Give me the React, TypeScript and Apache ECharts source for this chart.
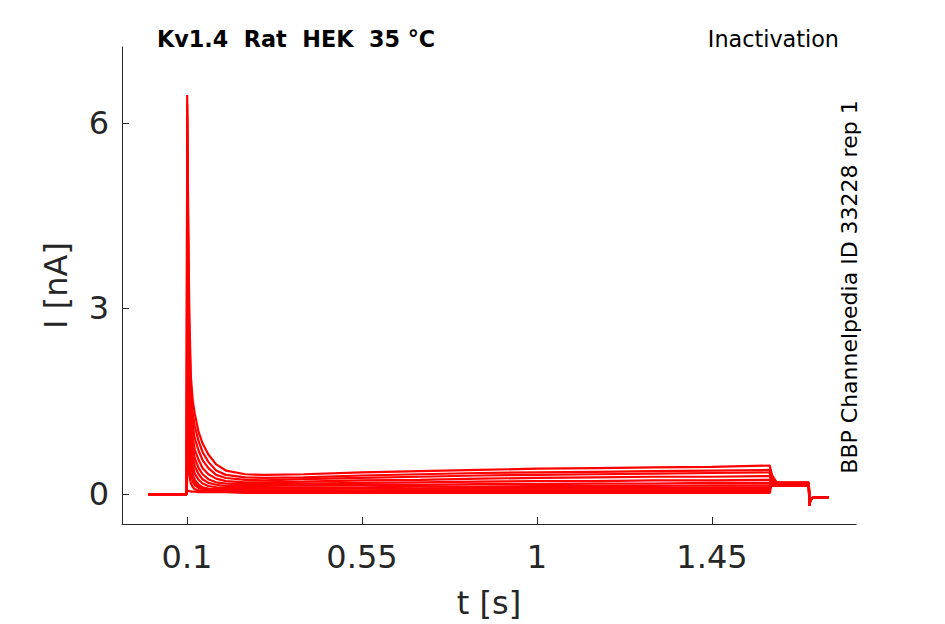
import React, { useEffect, useRef } from "react";
import * as echarts from "echarts";

// time samples [s]
const timePoints = [
  0, 0.0995, 0.1005, 0.103, 0.106, 0.11, 0.115, 0.12, 0.13, 0.14, 0.155, 0.175, 0.2, 0.25,
  0.3, 0.4, 0.55, 0.7, 0.85, 1.0, 1.15, 1.3, 1.45, 1.599, 1.6005, 1.605, 1.615, 1.63, 1.66,
  1.699, 1.7005, 1.703, 1.71, 1.73, 1.75,
];

// current traces [nA]
const trace01 = [0, 0, 6.45, 4.6, 2.9, 1.9, 1.5, 1.3, 1.0, 0.82, 0.64, 0.48, 0.38, 0.32, 0.31, 0.32, 0.35, 0.37, 0.39, 0.41, 0.42, 0.43, 0.44, 0.46, 0.4, 0.3, 0.2, 0.16, 0.15, 0.15, -0.19, -0.09, -0.06, -0.05, -0.05];
const trace02 = [0, 0, 6.3, 4.2, 2.6, 1.7, 1.3, 1.1, 0.85, 0.68, 0.52, 0.38, 0.31, 0.27, 0.26, 0.27, 0.3, 0.32, 0.34, 0.35, 0.36, 0.37, 0.38, 0.39, 0.33, 0.24, 0.18, 0.16, 0.16, 0.16, -0.19, -0.09, -0.06, -0.05, -0.05];
const trace03 = [0, 0, 6.1, 3.8, 2.3, 1.5, 1.1, 0.9, 0.7, 0.55, 0.42, 0.31, 0.26, 0.23, 0.22, 0.24, 0.26, 0.28, 0.3, 0.31, 0.32, 0.33, 0.34, 0.35, 0.28, 0.2, 0.17, 0.17, 0.17, 0.17, -0.19, -0.09, -0.06, -0.05, -0.05];
const trace04 = [0, 0, 5.8, 3.4, 2.0, 1.25, 0.9, 0.72, 0.55, 0.42, 0.32, 0.25, 0.21, 0.19, 0.19, 0.2, 0.22, 0.23, 0.25, 0.26, 0.27, 0.28, 0.28, 0.29, 0.24, 0.19, 0.18, 0.18, 0.18, 0.18, -0.19, -0.09, -0.06, -0.05, -0.05];
const trace05 = [0, 0, 5.3, 3.0, 1.7, 1.05, 0.75, 0.58, 0.42, 0.32, 0.24, 0.19, 0.17, 0.16, 0.16, 0.17, 0.18, 0.19, 0.2, 0.21, 0.21, 0.22, 0.22, 0.23, 0.2, 0.19, 0.19, 0.19, 0.19, 0.19, -0.19, -0.09, -0.06, -0.05, -0.05];
const trace06 = [0, 0, 4.6, 2.5, 1.4, 0.85, 0.6, 0.45, 0.32, 0.24, 0.18, 0.15, 0.13, 0.13, 0.13, 0.14, 0.15, 0.15, 0.16, 0.16, 0.17, 0.17, 0.18, 0.18, 0.18, 0.18, 0.18, 0.18, 0.18, 0.18, -0.19, -0.09, -0.06, -0.05, -0.05];
const trace07 = [0, 0, 3.8, 2.0, 1.1, 0.65, 0.45, 0.33, 0.23, 0.17, 0.13, 0.11, 0.1, 0.1, 0.1, 0.11, 0.11, 0.12, 0.12, 0.13, 0.13, 0.13, 0.14, 0.14, 0.17, 0.17, 0.17, 0.17, 0.17, 0.17, -0.19, -0.09, -0.06, -0.05, -0.05];
const trace08 = [0, 0, 2.9, 1.5, 0.8, 0.48, 0.32, 0.23, 0.15, 0.11, 0.09, 0.08, 0.08, 0.08, 0.08, 0.08, 0.09, 0.09, 0.1, 0.1, 0.1, 0.1, 0.11, 0.11, 0.16, 0.16, 0.16, 0.16, 0.16, 0.16, -0.19, -0.09, -0.06, -0.05, -0.05];
const trace09 = [0, 0, 2.0, 1.0, 0.55, 0.32, 0.2, 0.14, 0.1, 0.08, 0.07, 0.06, 0.06, 0.06, 0.06, 0.06, 0.06, 0.07, 0.07, 0.07, 0.08, 0.08, 0.08, 0.08, 0.15, 0.15, 0.15, 0.15, 0.15, 0.15, -0.19, -0.09, -0.06, -0.05, -0.05];
const trace10 = [0, 0, 1.1, 0.55, 0.3, 0.17, 0.11, 0.08, 0.06, 0.05, 0.05, 0.04, 0.04, 0.04, 0.04, 0.04, 0.04, 0.05, 0.05, 0.05, 0.05, 0.05, 0.05, 0.05, 0.14, 0.14, 0.14, 0.14, 0.14, 0.14, -0.19, -0.09, -0.06, -0.05, -0.05];
const trace11 = [0, 0, 0.3, 0.37, 0.34, 0.3, 0.24, 0.19, 0.12, 0.08, 0.06, 0.05, 0.04, 0.04, 0.04, 0.04, 0.04, 0.04, 0.04, 0.04, 0.04, 0.04, 0.04, 0.04, 0.13, 0.13, 0.13, 0.13, 0.13, 0.13, -0.19, -0.09, -0.06, -0.05, -0.05];
const trace12 = [0, 0, 0.04, 0.05, 0.05, 0.04, 0.04, 0.04, 0.03, 0.03, 0.03, 0.03, 0.03, 0.02, 0.02, 0.02, 0.02, 0.02, 0.02, 0.02, 0.02, 0.02, 0.02, 0.02, 0.12, 0.13, 0.13, 0.13, 0.13, 0.13, -0.19, -0.09, -0.06, -0.05, -0.05];

const traces = [trace12, trace11, trace10, trace09, trace08, trace07, trace06, trace05, trace04, trace03, trace02, trace01];

const xTickValues = [0.1, 0.55, 1, 1.45];
const yTickValues = [0, 3, 6];

const FONT = "'DejaVu Sans', sans-serif";
const AXIS_COLOR = "#262626";

export default function App() {
  const ref = useRef<HTMLDivElement>(null);
  useEffect(() => {
    const chart = echarts.init(ref.current!, null, { renderer: "svg" });
    chart.setOption({
      animation: false,
      backgroundColor: "#ffffff",
      grid: { left: 122, right: 89, top: 47, bottom: 99, containLabel: false },
      xAxis: {
        type: "value",
        min: -0.0671,
        max: 1.8203,
        name: "t [s]",
        nameLocation: "middle",
        nameGap: 63,
        nameTextStyle: { fontSize: 32, color: AXIS_COLOR, fontFamily: FONT },
        axisLine: { show: true, onZero: false, lineStyle: { color: AXIS_COLOR, width: 1 } },
        axisTick: { show: true, inside: true, length: 7, customValues: xTickValues, lineStyle: { color: AXIS_COLOR, width: 1 } },
        axisLabel: {
          customValues: xTickValues,
          fontSize: 32,
          color: AXIS_COLOR,
          fontFamily: FONT,
          margin: 17,
          formatter: (v: number) => String(v),
        },
        splitLine: { show: false },
      },
      yAxis: {
        type: "value",
        min: -0.484,
        max: 7.226,
        name: "I [nA]",
        nameLocation: "middle",
        nameGap: 50,
        nameTextStyle: { fontSize: 32, color: AXIS_COLOR, fontFamily: FONT },
        axisLine: { show: true, onZero: false, lineStyle: { color: AXIS_COLOR, width: 1 } },
        axisTick: { show: true, inside: true, length: 7, customValues: yTickValues, lineStyle: { color: AXIS_COLOR, width: 1 } },
        axisLabel: {
          customValues: yTickValues,
          fontSize: 32,
          color: AXIS_COLOR,
          fontFamily: FONT,
          margin: 13,
          formatter: (v: number) => String(v),
        },
        splitLine: { show: false },
      },
      series: traces.map((tr, k) => ({
        type: "line",
        name: "trace" + k,
        data: timePoints.map((t, i) => [t, tr[i]]),
        showSymbol: false,
        symbol: "none",
        silent: true,
        lineStyle: { color: "#ff0000", width: 2.2 },
        itemStyle: { color: "#ff0000" },
      })),
      graphic: [
        {
          type: "text",
          x: 157,
          y: 39,
          style: {
            text: "Kv1.4  Rat  HEK  35 °C",
            fontSize: 22.3,
            fontWeight: "bold",
            fontFamily: FONT,
            fill: "#000000",
            align: "left",
            textAlign: "left",
            verticalAlign: "middle",
            textVerticalAlign: "middle",
          },
        },
        {
          type: "text",
          x: 839,
          y: 39,
          style: {
            text: "Inactivation",
            fontSize: 22.3,
            fontFamily: FONT,
            fill: "#000000",
            align: "right",
            textAlign: "right",
            verticalAlign: "middle",
            textVerticalAlign: "middle",
          },
        },
        {
          type: "text",
          x: 849,
          y: 287,
          rotation: Math.PI / 2,
          style: {
            text: "BBP Channelpedia ID 33228 rep 1",
            fontSize: 22,
            fontFamily: FONT,
            fill: "#000000",
            align: "center",
            textAlign: "center",
            verticalAlign: "middle",
            textVerticalAlign: "middle",
          },
        },
      ],
    });
    return () => chart.dispose();
  }, []);
  return (
    <div
      ref={ref}
      style={{ position: "fixed", left: 0, top: 0, width: 945, height: 624, background: "#fff" }}
    />
  );
}
